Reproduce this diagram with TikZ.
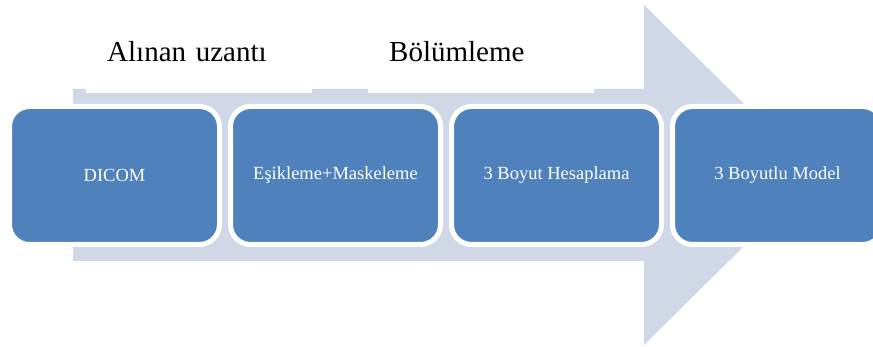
\documentclass[tikz,border=0pt]{standalone}
\usepackage{fontspec}
\setmainfont{Liberation Serif}
\usetikzlibrary{positioning}
\definecolor{stepblue}{HTML}{4F81BD}
\definecolor{arrowgray}{HTML}{D0D8E8}

\begin{document}
\begin{tikzpicture}[
    x=1pt, y=-1pt,
    stepbox/.style={rectangle, rounded corners=20pt, fill=stepblue, draw=white,
        line width=5pt, minimum width=210pt, minimum height=138pt,
        text=white, font=\fontsize{18.5}{22}\selectfont, inner sep=0pt},
    headlabel/.style={rectangle, fill=white, minimum height=82pt,
        text width=184pt, inner xsep=21pt, inner ysep=0pt, align=left,
        font=\fontsize{29}{34}\selectfont, anchor=south west}
]
    \useasboundingbox (0,0) rectangle (873,347);
    % big background arrow
    \fill[arrowgray] (73,89) -- (644,89) -- (644,5) -- (816,175) -- (644,345)
        -- (644,261) -- (73,261) -- cycle;
    % labels above the arrow
    \node[headlabel] (alinan) at (86,93) {Alınan uzantı};
    \node[headlabel] (bolum) at (368,93) {Bölümleme};
    % steps
    \node[stepbox] (dicom) at (114.5,175.5) {DICOM};
    \node[stepbox, right=6pt of dicom] (esik) {Eşikleme+Maskeleme};
    \node[stepbox, right=6pt of esik] (hesap) {3 Boyut Hesaplama};
    \node[stepbox, right=6pt of hesap] (model) {3 Boyutlu Model};
\end{tikzpicture}
\end{document}
